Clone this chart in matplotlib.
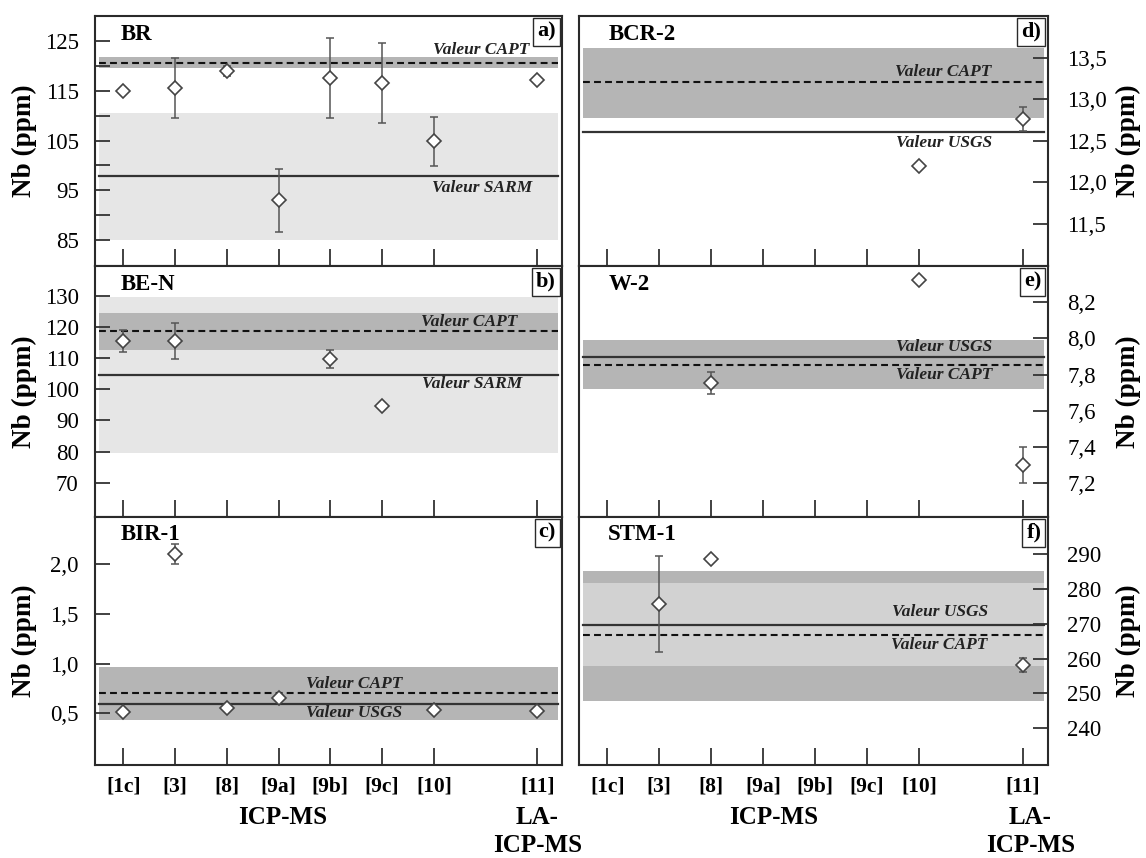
import numpy as np
import matplotlib
matplotlib.use("Agg")
import matplotlib.pyplot as plt
from matplotlib.ticker import FixedLocator, FixedFormatter

nan = np.nan

# ---------------- data ----------------
positions = [1, 2, 3, 4, 5, 6, 7, 9]
xlabels = ["[1c]", "[3]", "[8]", "[9a]", "[9b]", "[9c]", "[10]", "[11]"]

br_vals = [115.0, 115.5, 119.0, 93.0, 117.5, 116.5, 104.8, 117.2]
br_err = [0, 6.0, 1.0, 6.3, 8.0, 8.0, 5.0, 0]
br_capt, br_capt_band = 120.5, (119.5, 121.7)
br_sarm, br_sarm_band = 97.8, (85.0, 110.5)

ben_vals = [115.5, 115.5, nan, nan, 109.7, 94.6, nan, nan]
ben_err = [3.5, 5.8, 0, 0, 3.0, 0, 0, 0]
ben_capt, ben_capt_band = 118.7, (112.6, 124.4)
ben_sarm, ben_sarm_band = 104.5, (79.7, 129.8)

bir_vals = [0.51, 2.10, 0.55, 0.65, nan, nan, 0.53, 0.52]
bir_err = [0, 0.10, 0, 0, 0, 0, 0, 0]
bir_capt, bir_usgs, bir_band = 0.70, 0.59, (0.43, 0.97)

bcr_vals = [nan, nan, nan, nan, nan, nan, 12.19, 12.76]
bcr_err = [0, 0, 0, 0, 0, 0, 0, 0.14]
bcr_capt, bcr_band, bcr_usgs = 13.2, (12.77, 13.61), 12.6

w2_vals = [nan, nan, 7.754, nan, nan, nan, 8.32, 7.30]
w2_err = [0, 0, 0.06, 0, 0, 0, 0, 0.10]
w2_usgs, w2_band, w2_capt = 7.895, (7.72, 7.99), 7.855

stm_vals = [nan, 275.7, 288.6, nan, nan, nan, nan, 258.2]
stm_err = [0, 13.8, 0, 0, 0, 0, 0, 2.0]
stm_usgs, stm_capt = 269.7, 266.8
stm_band_outer, stm_band_inner = (247.8, 285.2), (258.0, 281.8)

br_ticks = [85, 90, 95, 100, 105, 110, 115, 120, 125]
br_ticklabels = ["85", "", "95", "", "105", "", "115", "", "125"]
ben_ticks = [70, 80, 90, 100, 110, 120, 130]
ben_ticklabels = ["70", "80", "90", "100", "110", "120", "130"]
bir_ticks = [0.5, 1.0, 1.5, 2.0]
bir_ticklabels = ["0,5", "1,0", "1,5", "2,0"]
bcr_ticks = [11.5, 12.0, 12.5, 13.0, 13.5]
bcr_ticklabels = ["11,5", "12,0", "12,5", "13,0", "13,5"]
w2_ticks = [7.2, 7.4, 7.6, 7.8, 8.0, 8.2]
w2_ticklabels = ["7,2", "7,4", "7,6", "7,8", "8,0", "8,2"]
stm_ticks = [240, 250, 260, 270, 280, 290]
stm_ticklabels = ["240", "250", "260", "270", "280", "290"]

# ---------------- style ----------------
SERIF = "Liberation Serif"
plt.rcParams["font.family"] = SERIF
DARK = "#b5b5b5"
MID = "#d2d2d2"
LIGHT = "#e6e6e6"
SPINE = "#2a2a2a"

W, H = 1146, 858
fig = plt.figure(figsize=(W / 100, H / 100), dpi=100)

colx = [(95.4, 466.8), (579.2, 468.4)]
rows = [(16, 266), (266, 517), (517, 765)]


def make_ax(col, row):
    x0, w = colx[col]
    t, b = rows[row]
    return fig.add_axes([x0 / W, (H - b) / H, w / W, (b - t) / H])


def base(ax, right, ylim, ticks, ticklabels, title, letter, show_x):
    ax.set_xlim(0.46, 9.48)
    ax.set_ylim(*ylim)
    for s in ax.spines.values():
        s.set_linewidth(1.5)
        s.set_color(SPINE)
    ax.set_xticks(positions)
    if show_x:
        ax.set_xticklabels(xlabels, fontsize=15.5, fontweight="bold")
    else:
        ax.set_xticklabels([])
    ax.tick_params(axis="x", direction="in", length=12, width=1.3,
                   color="#333333", pad=8)
    ax.yaxis.set_major_locator(FixedLocator(ticks))
    ax.yaxis.set_major_formatter(FixedFormatter(ticklabels))
    if right:
        ax.yaxis.tick_right()
        ax.yaxis.set_label_position("right")
        ax.tick_params(axis="y", which="both", direction="in", length=11,
                       width=1.3, color="#333333", pad=14, labelsize=16.5,
                       left=False, right=True)
        ax.set_ylabel("Nb (ppm)", fontsize=19.5, fontweight="bold",
                      rotation=90)
        ax.yaxis.set_label_coords(1.146, 0.5)
    else:
        ax.tick_params(axis="y", which="both", direction="in", length=11,
                       width=1.3, color="#333333", pad=12, labelsize=16.5)
        ax.set_ylabel("Nb (ppm)", fontsize=19.5, fontweight="bold")
        ax.yaxis.set_label_coords(-0.125, 0.5)
    ax.text(0.055 if not right else 0.062, 0.928, title,
            transform=ax.transAxes, ha="left", va="center",
            fontsize=16.5, fontweight="bold")
    ax.annotate(letter, xy=(1, 1), xycoords="axes fraction",
                xytext=(-4.5, -4), textcoords="offset points",
                ha="right", va="top", fontsize=16, fontweight="bold",
                bbox=dict(boxstyle="square,pad=0.18", fc="white",
                          ec=SPINE, lw=1.0))


def band(ax, lo_hi, color):
    ax.axhspan(lo_hi[0], lo_hi[1], xmin=0.008, xmax=0.992, color=color,
               lw=0, zorder=0.5)


def line(ax, y, dashed):
    if dashed:
        ax.axhline(y, xmin=0.008, xmax=0.992, color="#111111", lw=1.5,
                   ls=(0, (3.3, 2.0)), zorder=1)
    else:
        ax.axhline(y, xmin=0.008, xmax=0.992, color="#333333", lw=1.6,
                   zorder=1)


def label(ax, x, y, s):
    ax.text(x, y, s, ha="center", va="center", fontsize=12.5,
            fontstyle="italic", fontweight="bold", color="#222222",
            zorder=2)


def points(ax, vals, errs):
    v = np.array(vals, dtype=float)
    e = np.array(errs, dtype=float)
    p = np.array(positions, dtype=float)
    m = ~np.isnan(v) & (e > 0)
    if m.any():
        ax.errorbar(p[m], v[m], yerr=e[m], fmt="none", ecolor="#555555",
                    elinewidth=1.1, capsize=2.6, capthick=1.1, zorder=3)
    ax.plot(p, v, ls="none", marker="D", ms=7.2, mfc="white",
            mec="#444444", mew=1.2, zorder=4)


def group_labels(ax, x_icp, x_la):
    blend = ax.get_xaxis_transform()
    import matplotlib.transforms as mtrans
    tr = mtrans.blended_transform_factory(ax.transData, fig.transFigure)
    for x, y, s in [(x_icp, 817, "ICP-MS"), (x_la, 817, "LA-"),
                    (x_la, 846, "ICP-MS")]:
        ax.text(x, (H - y) / H, s, transform=tr, ha="center", va="center",
                fontsize=18, fontweight="bold", clip_on=False)


# a) BR
ax = make_ax(0, 0)
base(ax, False, (79.8, 130.0), br_ticks, br_ticklabels, "BR", "a)", False)
band(ax, br_sarm_band, LIGHT)
band(ax, br_capt_band, DARK)
line(ax, br_capt, True)
line(ax, br_sarm, False)
label(ax, 7.92, 123.1, "Valeur CAPT")
label(ax, 7.94, 95.4, "Valeur SARM")
points(ax, br_vals, br_err)

# b) BE-N
ax = make_ax(0, 1)
base(ax, False, (59.0, 139.6), ben_ticks, ben_ticklabels, "BE-N", "b)", False)
band(ax, ben_sarm_band, LIGHT)
band(ax, ben_capt_band, DARK)
line(ax, ben_capt, True)
line(ax, ben_sarm, False)
label(ax, 7.69, 121.6, "Valeur CAPT")
label(ax, 7.73, 101.7, "Valeur SARM")
points(ax, ben_vals, ben_err)

# c) BIR-1
ax = make_ax(0, 2)
base(ax, False, (-0.02, 2.476), bir_ticks, bir_ticklabels, "BIR-1", "c)", True)
band(ax, bir_band, DARK)
line(ax, bir_capt, True)
line(ax, bir_usgs, False)
label(ax, 5.46, 0.80, "Valeur CAPT")
label(ax, 5.46, 0.50, "Valeur USGS")
points(ax, bir_vals, bir_err)
group_labels(ax, 4.07, 9.0)

# d) BCR-2
ax = make_ax(1, 0)
base(ax, True, (10.99, 14.0), bcr_ticks, bcr_ticklabels, "BCR-2", "d)", False)
band(ax, bcr_band, DARK)
line(ax, bcr_capt, True)
line(ax, bcr_usgs, False)
label(ax, 7.46, 13.32, "Valeur CAPT")
label(ax, 7.48, 12.47, "Valeur USGS")
points(ax, bcr_vals, bcr_err)

# e) W-2
ax = make_ax(1, 1)
base(ax, True, (7.013, 8.40), w2_ticks, w2_ticklabels, "W-2", "e)", False)
band(ax, w2_band, DARK)
line(ax, w2_usgs, False)
line(ax, w2_capt, True)
label(ax, 7.48, 7.95, "Valeur USGS")
label(ax, 7.48, 7.80, "Valeur CAPT")
points(ax, w2_vals, w2_err)

# f) STM-1
ax = make_ax(1, 2)
base(ax, True, (229.5, 300.6), stm_ticks, stm_ticklabels, "STM-1", "f)", True)
band(ax, stm_band_outer, DARK)
band(ax, stm_band_inner, MID)
line(ax, stm_usgs, False)
line(ax, stm_capt, True)
label(ax, 7.41, 273.5, "Valeur USGS")
label(ax, 7.40, 263.9, "Valeur CAPT")
points(ax, stm_vals, stm_err)
group_labels(ax, 4.2, 9.15)

fig.savefig("out.png", dpi=100)
